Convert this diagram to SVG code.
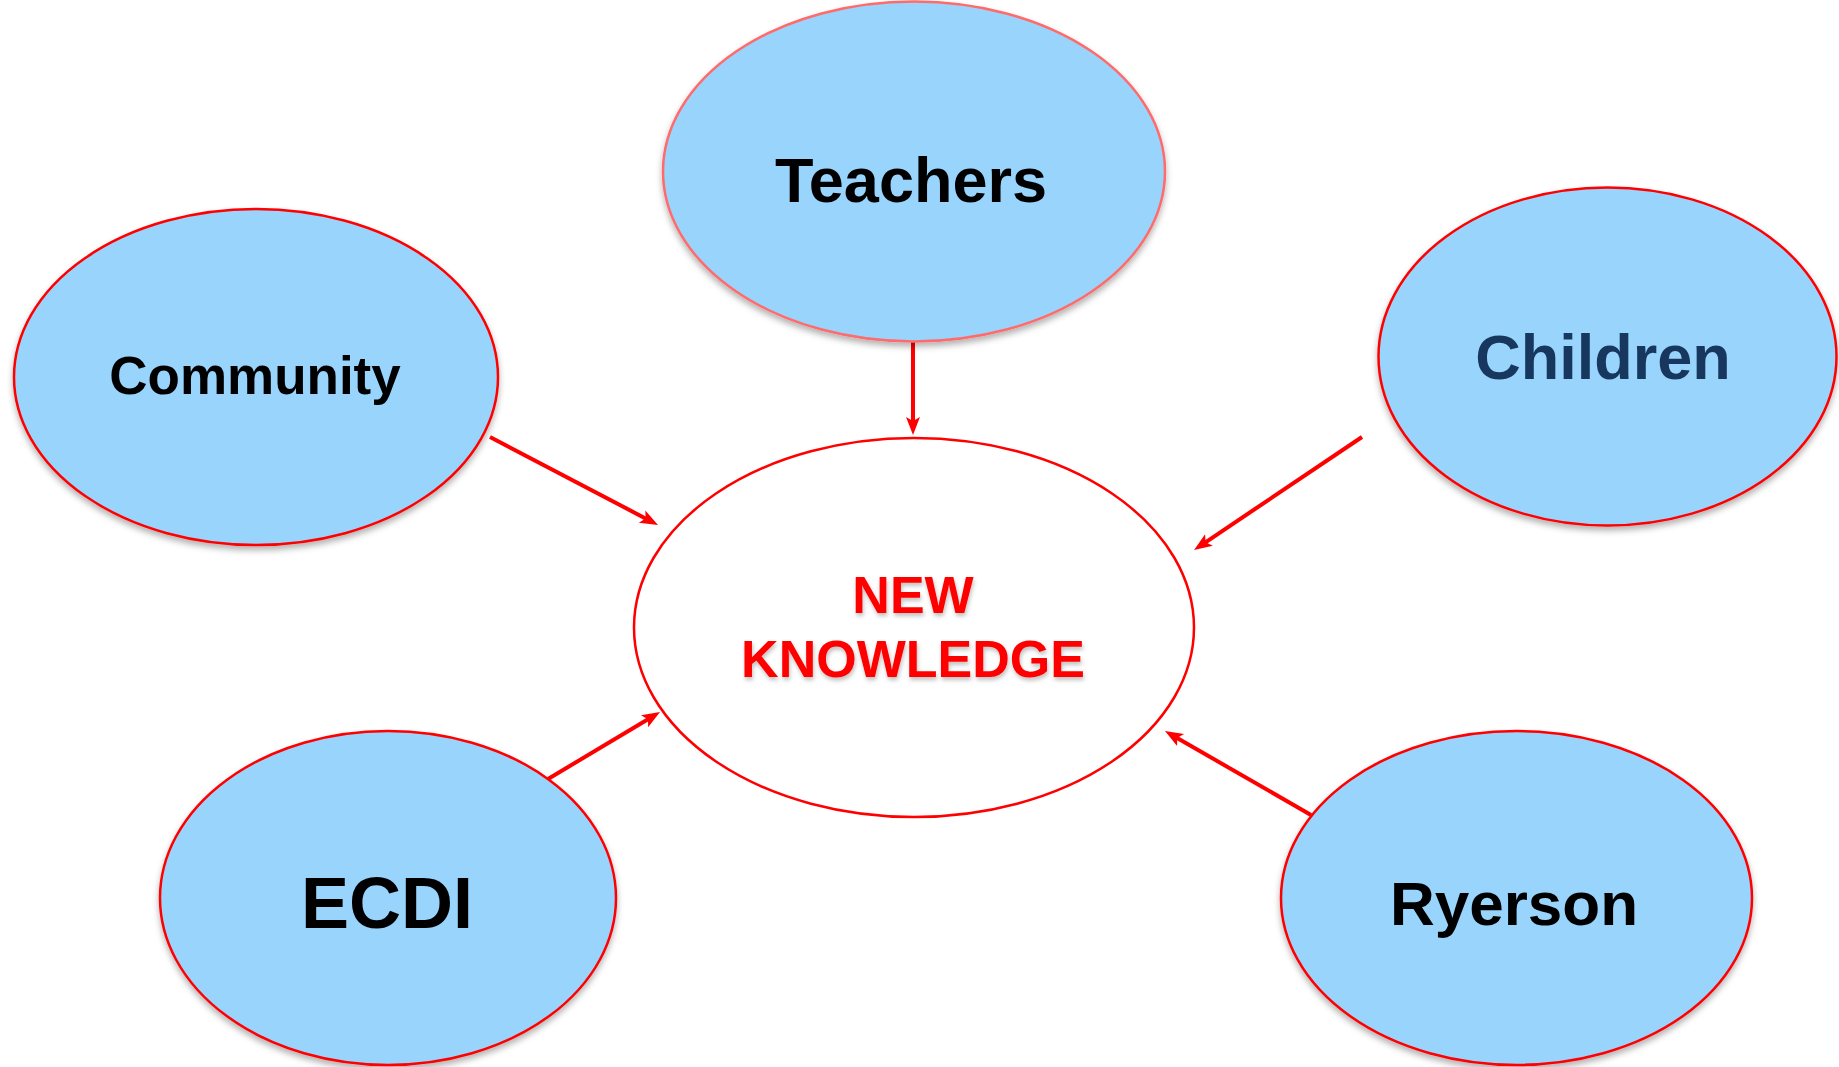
<svg xmlns="http://www.w3.org/2000/svg" width="1839" height="1067" viewBox="0 0 1839 1067">
<defs>
<style>
.bub{fill:#99D4FD;stroke:#FF0000;stroke-width:2.5;filter:url(#sh);}
.lbl{font-family:"Liberation Sans",Arial,sans-serif;font-weight:bold;text-anchor:middle;fill:#000;}
.con{stroke:#FF0000;stroke-width:4;fill:none;marker-end:url(#ah);}
</style>
<filter id="sh" x="-10%" y="-10%" width="120%" height="125%">
<feDropShadow dx="0" dy="4" stdDeviation="3" flood-color="#000" flood-opacity="0.3"/>
</filter>
<filter id="tsh" x="-10%" y="-20%" width="120%" height="150%">
<feDropShadow dx="1" dy="3" stdDeviation="2" flood-color="#000" flood-opacity="0.25"/>
</filter>
<marker id="ah" markerUnits="userSpaceOnUse" markerWidth="20" markerHeight="16" refX="6" refY="7" orient="auto">
<path d="M0,0 L18,7 L0,14 L4,7 z" fill="#FF0000"/>
</marker>
</defs>
<rect width="1839" height="1067" fill="#fff"/>
<g id="new-knowledge">
<ellipse cx="914" cy="627.5" rx="280" ry="189.5" fill="#fff" stroke="#FF0000" stroke-width="2.5"/>
<text class="lbl" x="913" y="613" font-size="52" fill="#FF0000" style="fill:#FF0000" filter="url(#tsh)">NEW</text>
<text class="lbl" x="913" y="677" font-size="52" style="fill:#FF0000" filter="url(#tsh)">KNOWLEDGE</text>
</g>
<g id="connectors">
<line class="con" x1="913" y1="342" x2="913" y2="423"/>
<line class="con" x1="490" y1="437" x2="647.4" y2="519.4"/>
<line class="con" x1="1362" y1="437" x2="1204" y2="543.3"/>
<line class="con" x1="548" y1="779" x2="649.7" y2="718.2"/>
<line class="con" x1="1311" y1="815" x2="1175.4" y2="737"/>
</g>
<g id="teachers">
<ellipse class="bub" cx="914" cy="171.5" rx="251" ry="170" style="stroke:#FF6B6B"/>
<text class="lbl" x="911" y="202" font-size="63">Teachers</text>
</g>
<g id="community">
<ellipse class="bub" cx="256" cy="377" rx="242" ry="168"/>
<text class="lbl" x="255" y="394" font-size="53">Community</text>
</g>
<g id="children">
<ellipse class="bub" cx="1607.5" cy="356.5" rx="229" ry="169"/>
<text class="lbl" x="1603" y="379" font-size="63" style="fill:#17375E">Children</text>
</g>
<g id="ecdi">
<ellipse class="bub" cx="388" cy="898" rx="228" ry="167"/>
<text class="lbl" x="387" y="928" font-size="72">ECDI</text>
</g>
<g id="ryerson">
<ellipse class="bub" cx="1516.5" cy="898" rx="235.5" ry="167"/>
<text class="lbl" x="1514" y="925" font-size="62">Ryerson</text>
</g>
</svg>
